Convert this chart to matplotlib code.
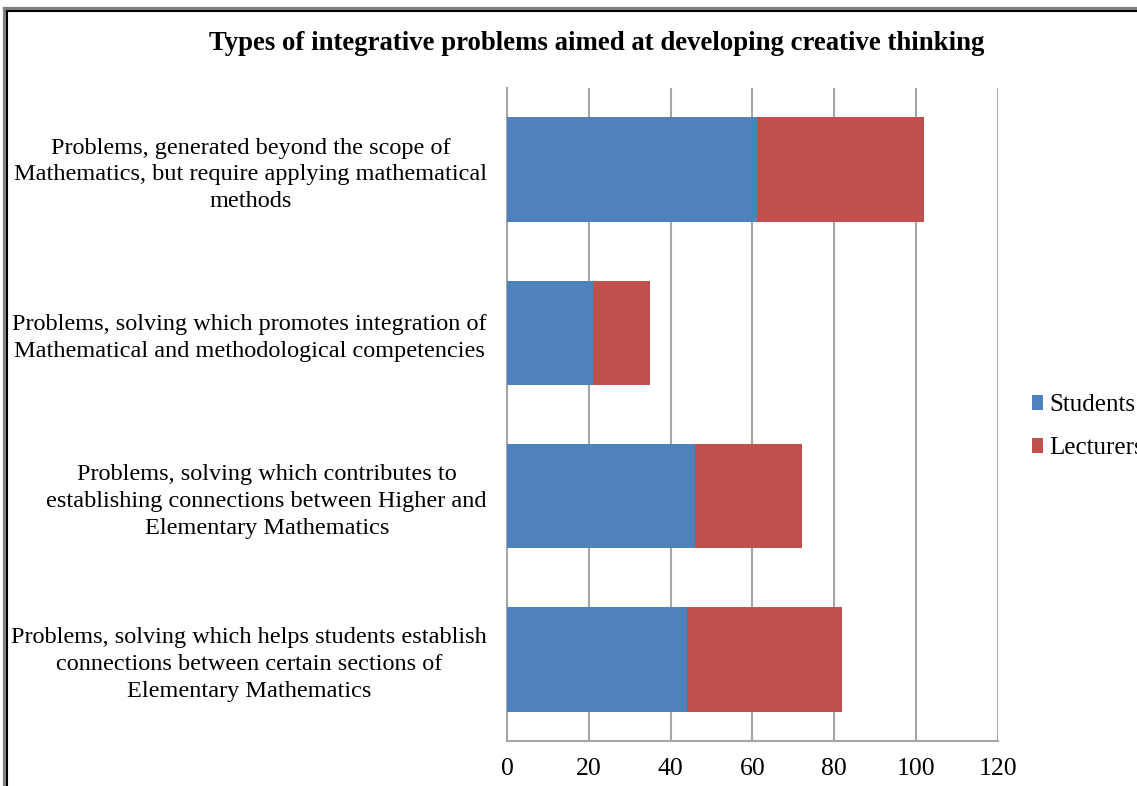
import matplotlib.pyplot as plt
from matplotlib.lines import Line2D

plt.rcParams["font.family"] = ["Liberation Serif", "DejaVu Serif"]

categories = [
    "Problems, generated beyond the scope of\nMathematics, but require applying mathematical\nmethods",
    "Problems, solving which promotes integration of\nMathematical and methodological competencies",
    "Problems, solving which contributes to\nestablishing connections between Higher and\nElementary Mathematics",
    "Problems, solving which helps students establish\nconnections between certain sections of\nElementary Mathematics",
]
students = [61, 21, 46, 44]
lecturers = [41, 14, 26, 38]
x_ticks = [0, 20, 40, 60, 80, 100, 120]

BLUE = "#4F81BD"
RED = "#C0504D"
GRID = "#A6A6A6"

fig = plt.figure(figsize=(11.37, 7.86), dpi=100)
ax = fig.add_axes([0.4459, 0.0573, 0.4318, 0.8308])

pos = list(range(len(categories)))
ax.barh(pos, students, height=0.64, color=BLUE, label="Students", zorder=3)
ax.barh(pos, lecturers, left=students, height=0.64, color=RED, label="Lecturers", zorder=3)

ax.set_xlim(0, 120)
ax.set_ylim(len(categories) - 0.5, -0.5)
ax.set_xticks(x_ticks)
ax.set_yticks(pos)
ax.set_yticklabels(categories, multialignment="center", fontsize=17.5, linespacing=1.36)
ax.tick_params(axis="y", length=0, pad=14.4)
ax.tick_params(axis="x", length=0, pad=12, labelsize=18.5)
ax.grid(axis="x", color=GRID, linewidth=1.5, zorder=0)
for side in ["top", "right"]:
    ax.spines[side].set_visible(False)
for side in ["left", "bottom"]:
    ax.spines[side].set_color(GRID)
    ax.spines[side].set_linewidth(1.5)

fig.text(0.525, 0.945, "Types of integrative problems aimed at developing creative thinking",
         ha="center", va="center", fontsize=19.3, fontweight="bold")

fig.legend(loc="center left", bbox_to_anchor=(0.888, 0.457), frameon=False,
           fontsize=18, handlelength=0.42, handleheight=0.55, handletextpad=0.28,
           labelspacing=0.85)

# frame of the chart area
fig.add_artist(Line2D([0.004, 1], [0.9885, 0.9885], color="#808080", linewidth=3))
fig.add_artist(Line2D([0.004, 0.004], [0, 0.9885], color="#808080", linewidth=3))
fig.add_artist(Line2D([0.0058, 1], [0.9865, 0.9865], color="black", linewidth=1.5))
fig.add_artist(Line2D([0.0058, 0.0058], [0, 0.9865], color="black", linewidth=1.5))

fig.savefig("out.png", dpi=100)
